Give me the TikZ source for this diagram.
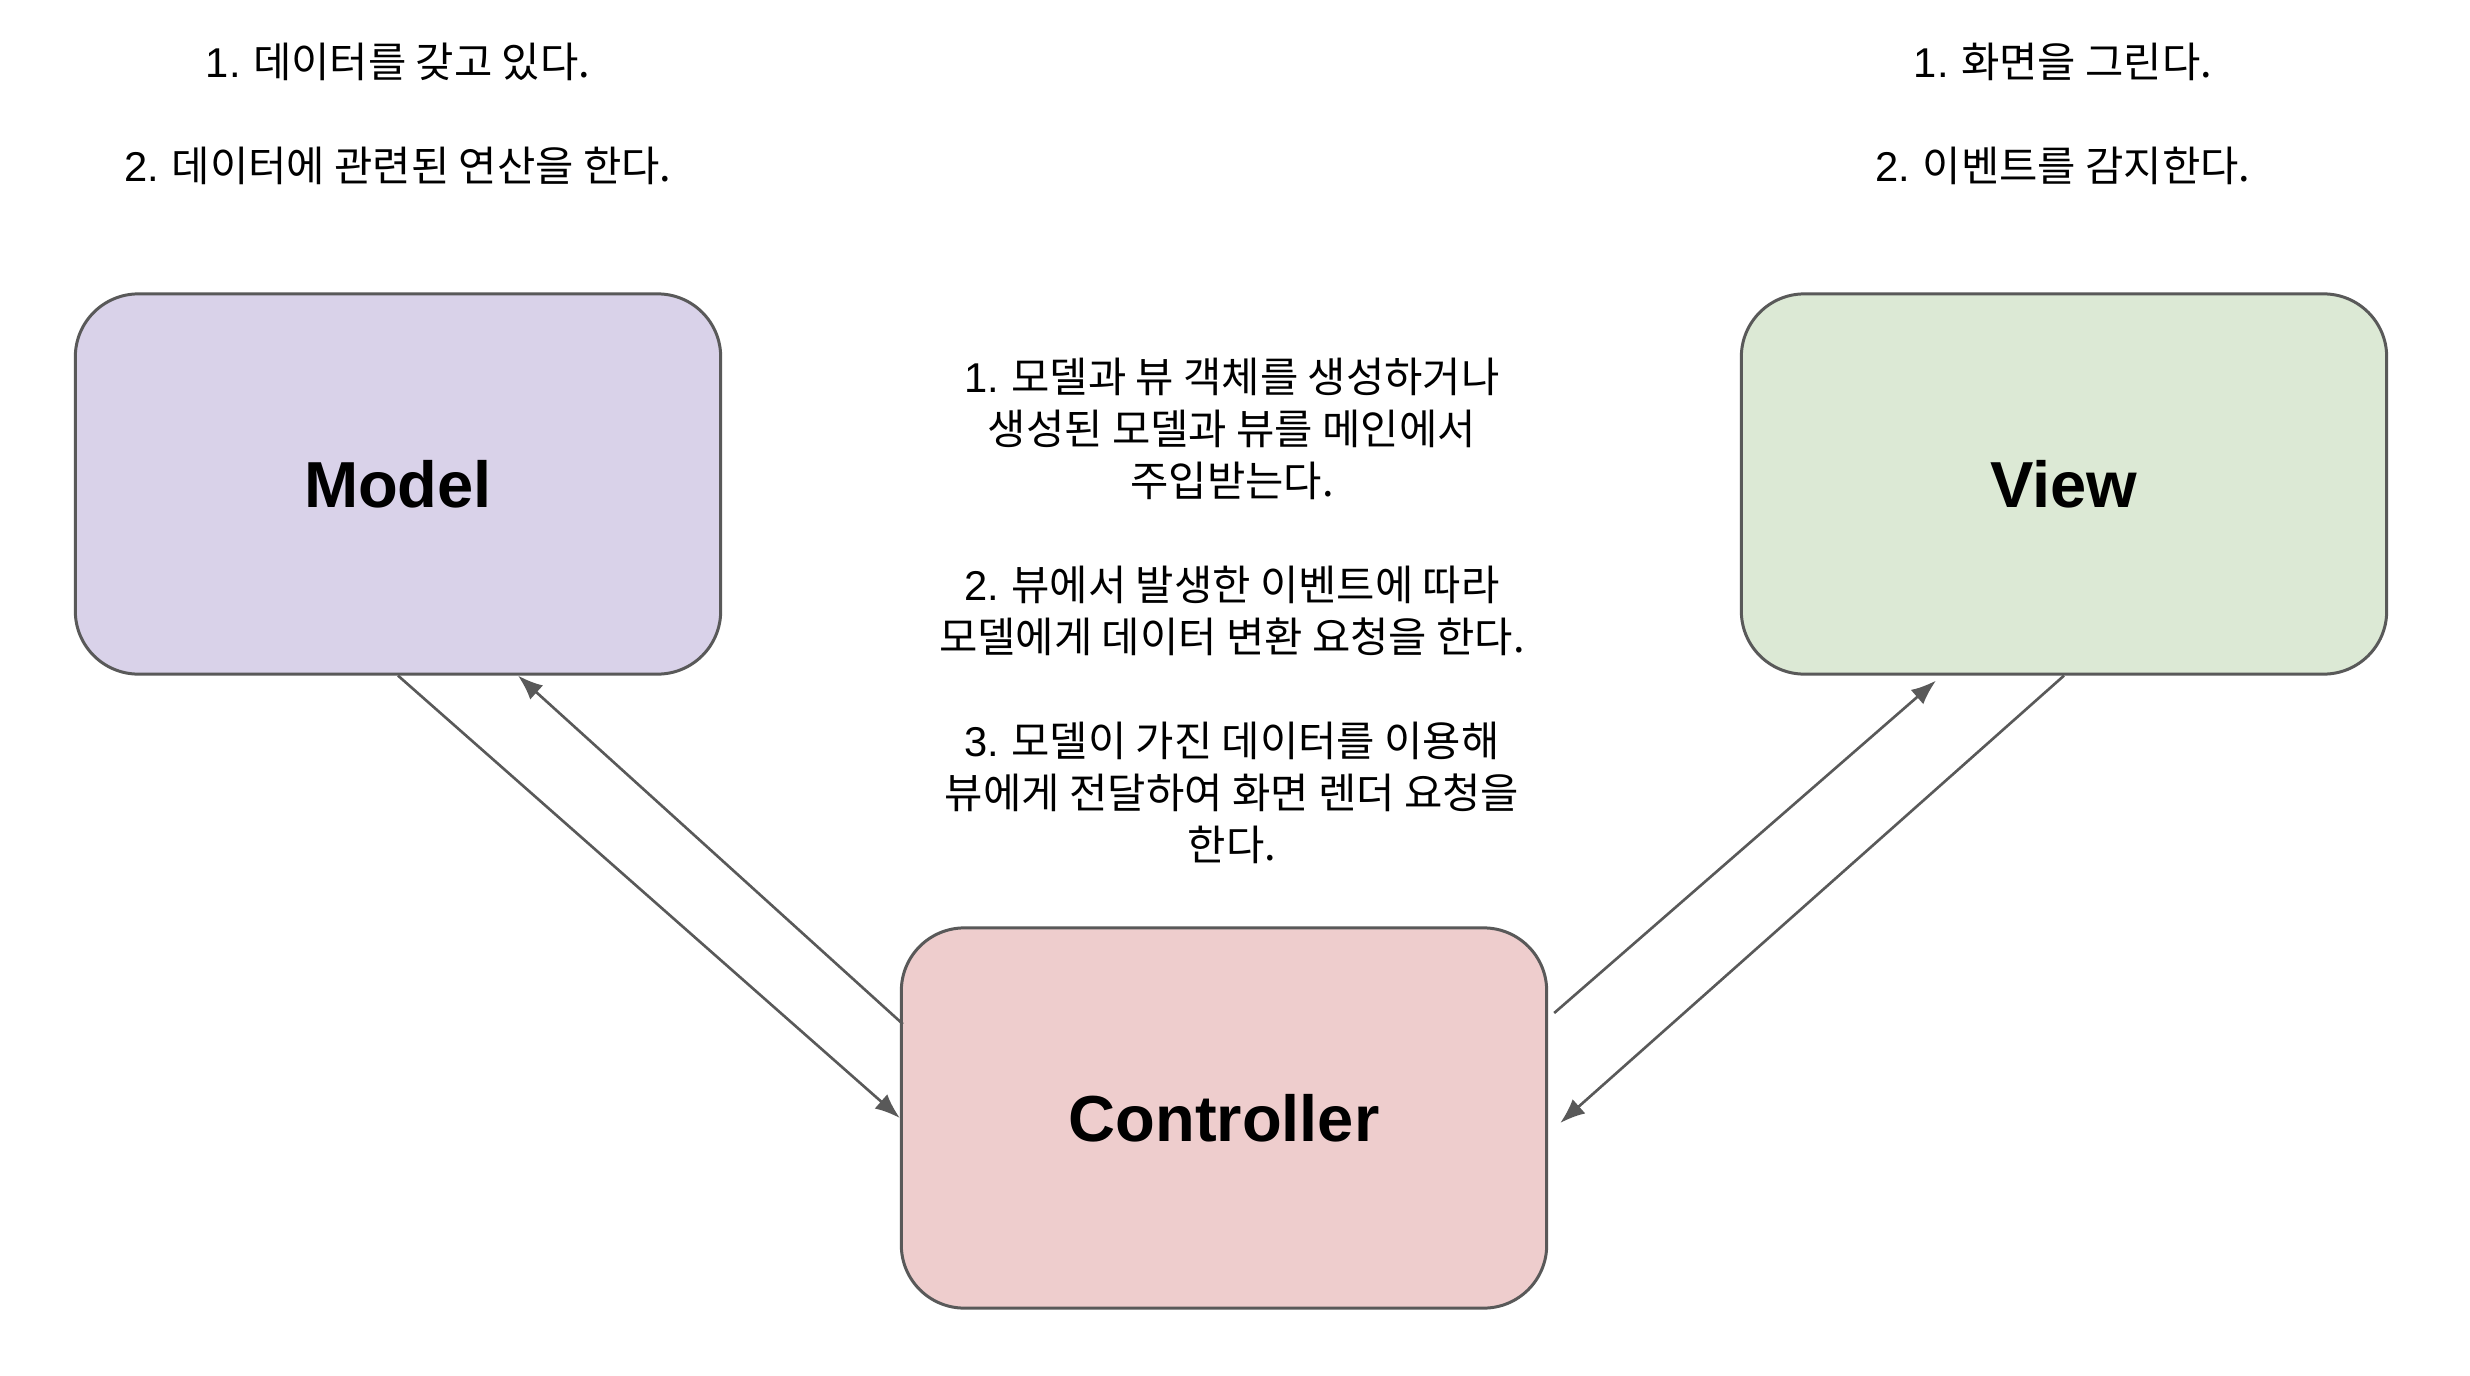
\documentclass[tikz,border=0pt]{standalone}
\usepackage{fontspec}
\setmainfont{Liberation Sans}
\newfontfamily\krfont{Noto Sans CJK KR}
\usetikzlibrary{arrows.meta,calc}
\definecolor{edgegray}{HTML}{595959}
\definecolor{modelfill}{HTML}{D9D2E9}
\definecolor{viewfill}{HTML}{DCE9D5}
\definecolor{ctrlfill}{HTML}{EECDCD}
\newcommand{\numlab}[1]{{\rmfamily #1}}
\begin{document}
\begin{tikzpicture}[x=0.01cm,y=-0.01cm,
  box/.style={draw=edgegray,line width=0.85pt,rounded corners=0.63cm,
    minimum width=6.45cm,minimum height=3.8cm,inner sep=0pt,
    font=\fontsize{18.5}{22}\selectfont\bfseries},
  conn/.style={draw=edgegray,line width=0.75pt,-{Latex[length=0.25cm,width=0.19cm]}},
  note/.style={align=center,inner sep=0pt,font=\fontsize{11.85}{14.8}\selectfont\krfont}]
\useasboundingbox (0,0) rectangle (2470,1376);
\fill[white] (0,0) rectangle (2470,1376);

\node[box,fill=modelfill] (model) at (398,484) {Model};
\node[box,fill=viewfill] (view) at (2064,484) {View};
\node[box,fill=ctrlfill] (ctrl) at (1224,1118) {Controller};

\node[note] (modelnote) at (398,114) {\numlab{1.} 데이터를 갖고 있다.\\[14.8pt]\numlab{2.} 데이터에 관련된 연산을 한다.};
\node[note] (viewnote) at (2063,114) {\numlab{1.} 화면을 그린다.\\[14.8pt]\numlab{2.} 이벤트를 감지한다.};
\node[note] (ctrlnote) at (1232,611) {\numlab{1.} 모델과 뷰 객체를 생성하거나\\생성된 모델과 뷰를 메인에서\\주입받는다.\\[14.8pt]
\numlab{2.} 뷰에서 발생한 이벤트에 따라\\모델에게 데이터 변환 요청을 한다.\\[14.8pt]
\numlab{3.} 모델이 가진 데이터를 이용해\\뷰에게 전달하여 화면 렌더 요청을\\한다.};

\draw[conn] (model.south) -- (ctrl.west);
\draw[conn] ($(ctrl.west)+(3,-94)$) -- ($(model.south)+(120,0)$);
\draw[conn] ($(ctrl.east)+(6,-105)$) -- ($(view.south)+(-128,5)$);
\draw[conn] (view.south) -- ($(ctrl.east)+(12,5)$);
\end{tikzpicture}
\end{document}
